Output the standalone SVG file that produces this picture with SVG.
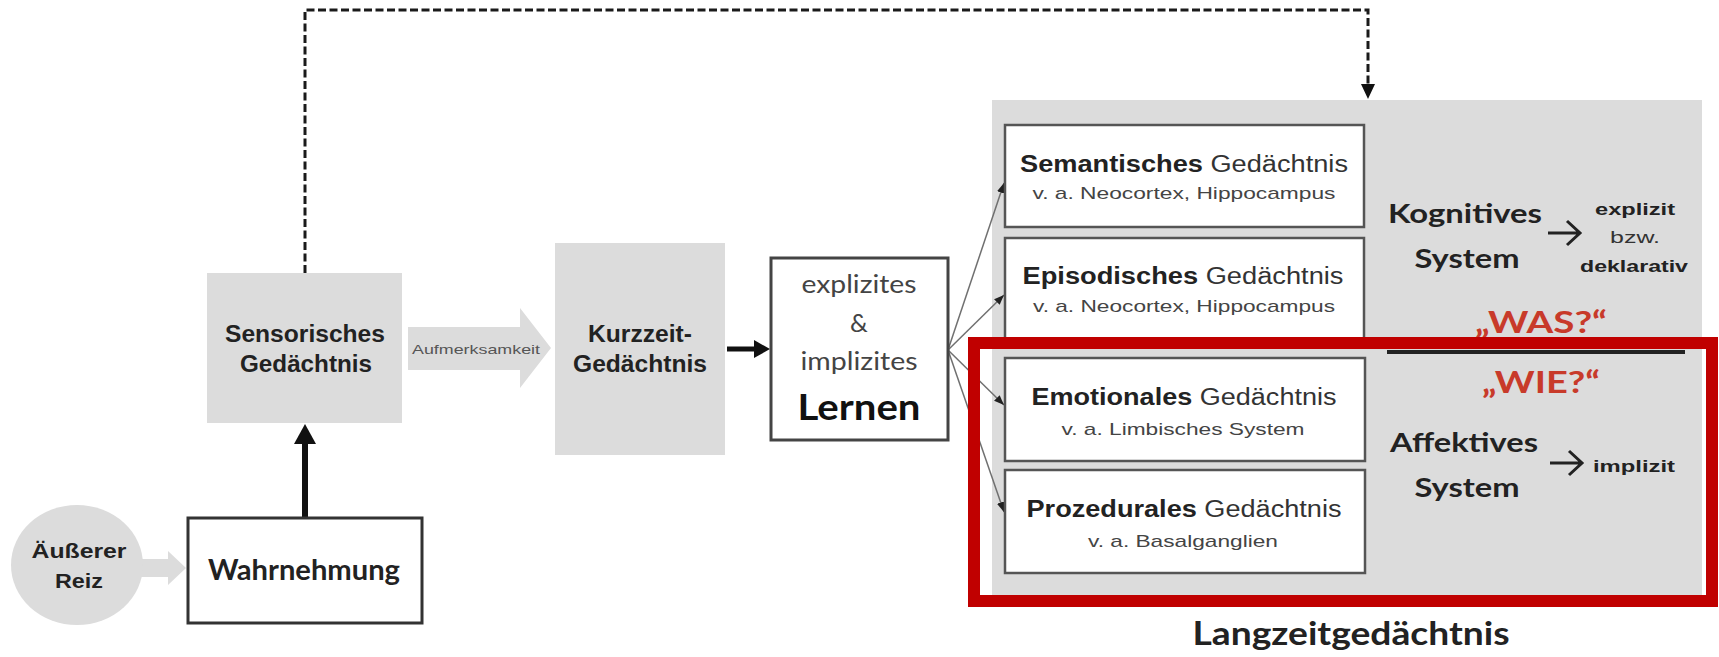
<svg xmlns="http://www.w3.org/2000/svg" width="1719" height="657" viewBox="0 0 1719 657">
<style>
  .gray { fill: #dcdcdc; }
  .box { fill: #ffffff; stroke: #555555; stroke-width: 2.5; }
  .arial { font-family: "Liberation Sans", Arial, sans-serif; }
  .cal { font-family: Lato, "Open Sans", sans-serif; }
  .b { font-weight: bold; }
  .dark { fill: #222222; }
  .mid { fill: #444444; }
  .red { fill: #c83a2a; }
  .title { font-size: 23px; fill: #333333; }
  .sub { font-size: 17px; fill: #444444; }
  .fan { stroke: #707070; stroke-width: 1.5; fill: none; marker-end: url(#small); }
</style>
<defs>
  <marker id="small" viewBox="0 0 10 10" refX="10" refY="5" markerWidth="10" markerHeight="10" markerUnits="userSpaceOnUse" orient="auto">
    <path d="M0,1 L10,5 L0,9 Z" fill="#222222"/>
  </marker>
  <marker id="dashhead" viewBox="0 0 14 14" refX="7" refY="13" markerWidth="14" markerHeight="14" markerUnits="userSpaceOnUse" orient="0">
    <path d="M0,0 L14,0 L7,14 Z" fill="#111111"/>
  </marker>
</defs>

<!-- Langzeitgedächtnis background -->
<g id="ltm">
  <rect x="992" y="100" width="710" height="497" class="gray"/>
  <text x="1351" y="645" class="cal b dark" font-size="32" text-anchor="middle" textLength="317" lengthAdjust="spacingAndGlyphs">Langzeitgedächtnis</text>
</g>

<g id="connectors">
  <!-- dashed feedback -->
  <path d="M305,273 V10 H1368 V86" fill="none" stroke="#1a1a1a" stroke-width="3" stroke-dasharray="8 3.5"/>
  <path d="M1361,84 L1375,84 L1368,99 Z" fill="#111111"/>
  <!-- Wahrnehmung -> Sensorisches -->
  <line x1="305" y1="517" x2="305" y2="442" stroke="#111111" stroke-width="6"/>
  <path d="M294,444 L316,444 L305,424 Z" fill="#111111"/>
  <!-- Reiz -> Wahrnehmung -->
  <path d="M138,559 L168,559 L168,551 L186,568 L168,585 L168,577 L138,577 Z" class="gray"/>
  <!-- Aufmerksamkeit -->
  <path d="M408,327 L520,327 L520,308 L551,348 L520,388 L520,370 L408,370 Z" class="gray"/>
  <text x="476" y="354" class="arial" font-size="13" fill="#555555" text-anchor="middle" textLength="128" lengthAdjust="spacingAndGlyphs">Aufmerksamkeit</text>
  <!-- Kurzzeit -> Lernen -->
  <line x1="727" y1="349" x2="756" y2="349" stroke="#111111" stroke-width="5"/>
  <path d="M754,340 L770,349 L754,358 Z" fill="#111111"/>
  <!-- fan -->
  <line x1="948" y1="350" x2="1004" y2="183" class="fan"/>
  <line x1="948" y1="350" x2="1004" y2="295" class="fan"/>
  <line x1="948" y1="350" x2="1004" y2="405" class="fan"/>
  <line x1="948" y1="350" x2="1004" y2="512" class="fan"/>
</g>

<g id="reiz">
  <ellipse cx="77" cy="565" rx="66" ry="60" class="gray"/>
  <text x="79" y="558" class="arial b dark" font-size="21" text-anchor="middle" textLength="95" lengthAdjust="spacingAndGlyphs">Äußerer</text>
  <text x="79" y="588" class="arial b dark" font-size="21" text-anchor="middle" textLength="48" lengthAdjust="spacingAndGlyphs">Reiz</text>
</g>

<g id="wahrnehmung">
  <rect x="188" y="518" width="234" height="105" fill="#ffffff" stroke="#333333" stroke-width="3"/>
  <text x="304" y="580" class="cal b dark" font-size="28" text-anchor="middle" textLength="192" lengthAdjust="spacingAndGlyphs">Wahrnehmung</text>
</g>

<g id="sensorisch">
  <rect x="207" y="273" width="195" height="150" class="gray"/>
  <text x="305" y="342" class="arial b dark" font-size="23" text-anchor="middle" textLength="160" lengthAdjust="spacingAndGlyphs">Sensorisches</text>
  <text x="306" y="372" class="arial b dark" font-size="23" text-anchor="middle" textLength="132" lengthAdjust="spacingAndGlyphs">Gedächtnis</text>
</g>

<g id="kurzzeit">
  <rect x="555" y="243" width="170" height="212" class="gray"/>
  <text x="640" y="342" class="arial b dark" font-size="23" text-anchor="middle" textLength="104" lengthAdjust="spacingAndGlyphs">Kurzzeit-</text>
  <text x="640" y="372" class="arial b dark" font-size="23" text-anchor="middle" textLength="134" lengthAdjust="spacingAndGlyphs">Gedächtnis</text>
</g>

<g id="lernen">
  <rect x="771" y="258" width="177" height="182" fill="#ffffff" stroke="#444444" stroke-width="3"/>
  <text x="859" y="293" class="cal mid" font-size="25" text-anchor="middle" textLength="115" lengthAdjust="spacingAndGlyphs">explizites</text>
  <text x="859" y="332" class="cal mid" font-size="25" text-anchor="middle">&amp;</text>
  <text x="859" y="370" class="cal mid" font-size="25" text-anchor="middle" textLength="117" lengthAdjust="spacingAndGlyphs">implizites</text>
  <text x="859" y="420" class="cal b" fill="#111111" font-size="36" text-anchor="middle" textLength="123" lengthAdjust="spacingAndGlyphs">Lernen</text>
</g>

<g id="semantisch">
  <rect x="1005" y="125" width="359" height="102" class="box"/>
  <text x="1184" y="172" class="arial title" text-anchor="middle" textLength="328" lengthAdjust="spacingAndGlyphs"><tspan class="b dark">Semantisches</tspan> Gedächtnis</text>
  <text x="1184" y="199" class="arial sub" text-anchor="middle" textLength="303" lengthAdjust="spacingAndGlyphs">v. a. Neocortex, Hippocampus</text>
</g>

<g id="episodisch">
  <rect x="1005" y="238" width="359" height="103" class="box"/>
  <text x="1183" y="284" class="arial title" text-anchor="middle" textLength="321" lengthAdjust="spacingAndGlyphs"><tspan class="b dark">Episodisches</tspan> Gedächtnis</text>
  <text x="1184" y="312" class="arial sub" text-anchor="middle" textLength="302" lengthAdjust="spacingAndGlyphs">v. a. Neocortex, Hippocampus</text>
</g>

<g id="emotional">
  <rect x="1005" y="358" width="360" height="103" class="box"/>
  <text x="1184" y="405" class="arial title" text-anchor="middle" textLength="305" lengthAdjust="spacingAndGlyphs"><tspan class="b dark">Emotionales</tspan> Gedächtnis</text>
  <text x="1183" y="435" class="arial sub" text-anchor="middle" textLength="243" lengthAdjust="spacingAndGlyphs">v. a. Limbisches System</text>
</g>

<g id="prozedural">
  <rect x="1005" y="470" width="360" height="103" class="box"/>
  <text x="1184" y="517" class="arial title" text-anchor="middle" textLength="315" lengthAdjust="spacingAndGlyphs"><tspan class="b dark">Prozedurales</tspan> Gedächtnis</text>
  <text x="1183" y="547" class="arial sub" text-anchor="middle" textLength="190" lengthAdjust="spacingAndGlyphs">v. a. Basalganglien</text>
</g>

<g id="kognitiv">
  <text x="1465" y="223" class="cal b dark" font-size="26" text-anchor="middle" textLength="154" lengthAdjust="spacingAndGlyphs">Kognitives</text>
  <text x="1467" y="268" class="cal b dark" font-size="26" text-anchor="middle" textLength="105" lengthAdjust="spacingAndGlyphs">System</text>
  <path d="M1548,233 H1579 M1567,221 L1580,233 L1567,245" fill="none" stroke="#222222" stroke-width="3"/>
  <text x="1635" y="215" class="arial b dark" font-size="17" text-anchor="middle" textLength="80" lengthAdjust="spacingAndGlyphs">explizit</text>
  <text x="1635" y="243" class="arial" fill="#333333" font-size="17" text-anchor="middle" textLength="50" lengthAdjust="spacingAndGlyphs">bzw.</text>
  <text x="1634" y="272" class="arial b dark" font-size="17" text-anchor="middle" textLength="108" lengthAdjust="spacingAndGlyphs">deklarativ</text>
  <text x="1541" y="333" class="cal b red" font-size="30" text-anchor="middle" textLength="132" lengthAdjust="spacingAndGlyphs">„WAS?“</text>
</g>

<line id="divider" x1="1387" y1="352" x2="1685" y2="352" stroke="#222222" stroke-width="4"/>

<g id="affektiv">
  <text x="1541" y="393" class="cal b red" font-size="30" text-anchor="middle" textLength="118" lengthAdjust="spacingAndGlyphs">„WIE?“</text>
  <text x="1464" y="452" class="cal b dark" font-size="26" text-anchor="middle" textLength="148" lengthAdjust="spacingAndGlyphs">Affektives</text>
  <text x="1467" y="497" class="cal b dark" font-size="26" text-anchor="middle" textLength="105" lengthAdjust="spacingAndGlyphs">System</text>
  <path d="M1550,463 H1581 M1569,451 L1582,463 L1569,475" fill="none" stroke="#222222" stroke-width="3"/>
  <text x="1634" y="472" class="arial b dark" font-size="17" text-anchor="middle" textLength="82" lengthAdjust="spacingAndGlyphs">implizit</text>
</g>

<rect id="highlight" x="974" y="343" width="738" height="258" fill="none" stroke="#c00000" stroke-width="12"/>
</svg>
